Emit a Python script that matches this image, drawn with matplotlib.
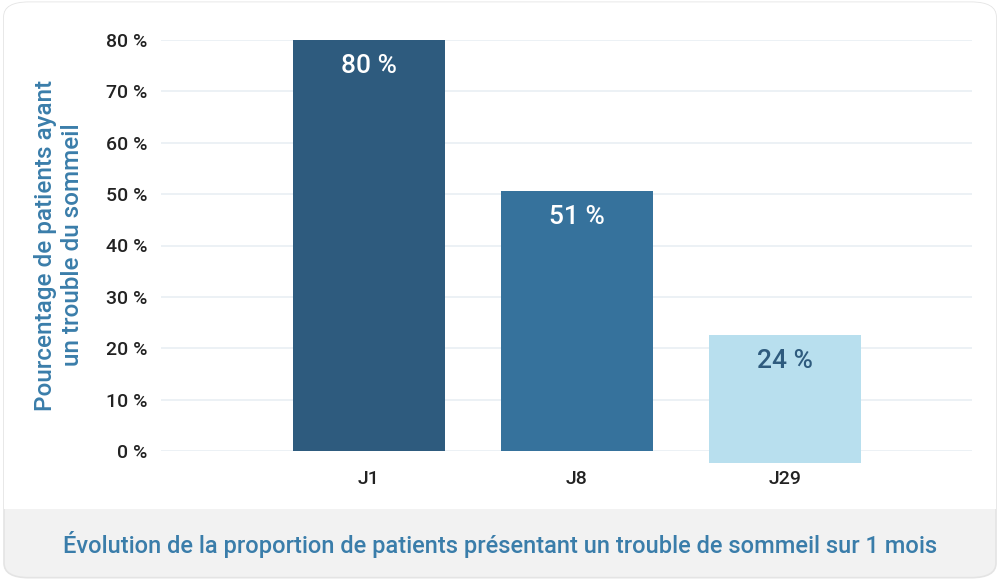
import matplotlib
matplotlib.use("Agg")
import matplotlib.pyplot as plt
from matplotlib.patches import FancyBboxPatch, Rectangle

plt.rcParams.update({"font.family": ["Roboto", "DejaVu Sans"], "font.weight": "medium"})

DAYS = ["J1", "J8", "J29"]
# bar extents as drawn in the source (J29 starts a little below the zero line)
BAR_HEIGHTS = [80, 50.6, 25]
BASES = [0, 0, -2.4]
LABELS = ["80 %", "51 %", "24 %"]
YTICKS = [0, 10, 20, 30, 40, 50, 60, 70, 80]
BAR_COLORS = ["#2e5b7e", "#36729c", "#b8dfee"]
LABEL_COLORS = ["white", "white", "#2e5b7e"]
BLUE_TXT = "#3a7daa"

fig = plt.figure(figsize=(10, 5.8), dpi=100)
fig.patch.set_facecolor("white")

# rounded card with grey footer band
card = FancyBboxPatch((0.004, 0.004), 0.992, 0.992, boxstyle="round,pad=0,rounding_size=0.025",
                      transform=fig.transFigure, fc="#f2f2f2", ec="#e4e4e4", lw=1.2, zorder=-2)
fig.patches.append(card)
top = Rectangle((0, 1 - 509 / 580), 1, 509 / 580, transform=fig.transFigure,
                fc="white", ec="none", zorder=-1)
top.set_clip_path(card)
fig.patches.append(top)

ax = fig.add_axes([0.161, 1 - 451 / 580, 0.811, (451 - 40) / 580])
ax.set_facecolor("none")
x = range(len(DAYS))
bars = ax.bar(x, BAR_HEIGHTS, bottom=BASES, width=0.73, color=BAR_COLORS, zorder=3, clip_on=False)
for b, lab, c in zip(bars, LABELS, LABEL_COLORS):
    ax.annotate(lab, (b.get_x() + b.get_width() / 2, b.get_y() + b.get_height()),
                xytext=(0, -26), textcoords="offset pixels", ha="center", va="center",
                fontsize=19, color=c, zorder=4)

ax.set_xlim(-1.0, 2.9)
ax.set_ylim(0, 80)
ax.set_yticks(YTICKS)
ax.set_yticklabels([f"{t} %" for t in YTICKS])
ax.set_xticks(list(x))
ax.set_xticklabels(DAYS)
ax.tick_params(axis="both", length=0, labelsize=14, colors="#222222")
ax.tick_params(axis="y", pad=10)
ax.tick_params(axis="x", pad=14)
ax.grid(axis="y", color="#e9eff4", lw=1.2, zorder=0)
for s in ax.spines.values():
    s.set_visible(False)

fig.text(0.059, 1 - 245 / 580, "Pourcentage de patients ayant\nun trouble du sommeil",
         rotation=90, ha="center", va="center", multialignment="center",
         fontsize=17.5, color=BLUE_TXT, linespacing=1.25)
fig.text(0.5, 1 - 545 / 580,
         "Évolution de la proportion de patients présentant un trouble de sommeil sur 1 mois",
         ha="center", va="center", fontsize=17, color=BLUE_TXT)

fig.savefig("out.png", dpi=100)
